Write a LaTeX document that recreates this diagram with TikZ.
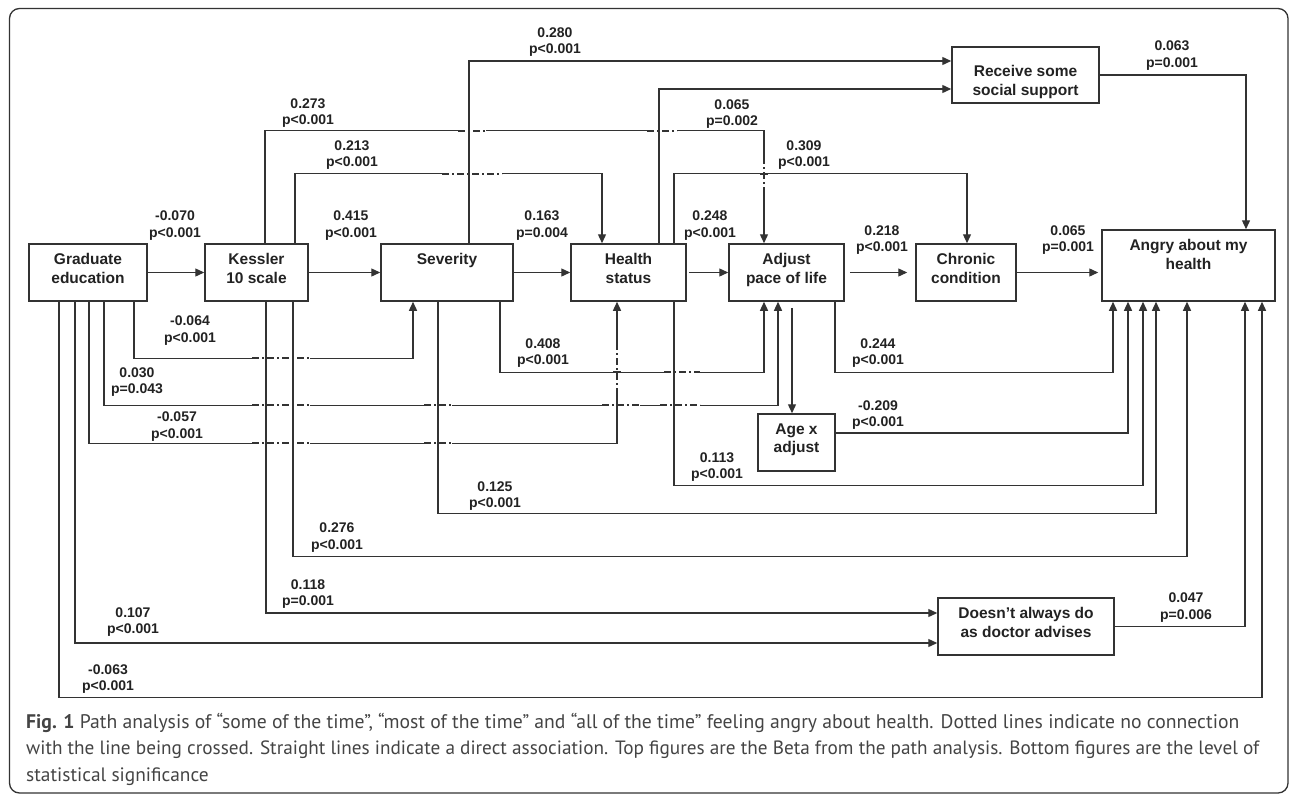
\documentclass[tikz,border=0pt]{standalone}
\usepackage{fontspec}
\setmainfont{Liberation Sans}
\newfontfamily\capfont{PT Sans}
\usetikzlibrary{arrows.meta}
\definecolor{ln}{HTML}{333333}
\definecolor{tx}{HTML}{222222}
\definecolor{captx}{HTML}{444444}
\tikzset{
 box/.style={draw=ln, line width=1.5pt, inner sep=0pt},
 boxtext/.style={anchor=north, inner sep=0pt, yshift=-10pt, align=center, font=\bfseries\fontsize{15.5}{18.5}\selectfont, text=tx},
 conn/.style={draw=ln, line width=1.3pt, -{Triangle[length=9pt,width=8pt]}},
 plain/.style={draw=ln, line width=1.3pt},
 brk/.style={draw=ln, line width=1.3pt, dash pattern=on 7pt off 3pt on 2pt off 3pt},
 coef/.style={align=center, inner sep=0pt, font=\bfseries\fontsize{14}{16.5}\selectfont, text=tx},
 captext/.style={anchor=west, inner sep=0pt, font=\capfont\fontsize{19.4}{22}\selectfont, text=captx},
}
\newcommand\brkh[3]{\fill[white] (#1,#3-1.8) rectangle (#2,#3+1.8); \draw[brk] (#1,#3) -- (#2,#3);}
\newcommand\brkv[3]{\fill[white] (#3-1.8,#1) rectangle (#3+1.8,#2); \draw[brk] (#3,#1) -- (#3,#2);}
\newcommand\fixv[2]{\draw[plain] (#1,#2-4) -- (#1,#2+4);}
\newcommand\fixh[2]{\draw[plain] (#1-4,#2) -- (#1+4,#2);}
\begin{document}
\begin{tikzpicture}[x=1pt,y=-1pt]
\useasboundingbox (0,0) rectangle (1292,795);
\draw[ln, line width=1.3pt, rounded corners=10pt] (9.5,8.5) rectangle (1288,793);

% boxes
\node[box, minimum width=118pt, minimum height=57pt] (grad) at (88,272.5) {};
\node[boxtext] (gradT) at (grad.north) {Graduate\\education};
\node[box, minimum width=103pt, minimum height=57pt] (kess) at (256.5,272.5) {};
\node[boxtext] (kessT) at (kess.north) {Kessler\\10 scale};
\node[box, minimum width=132pt, minimum height=57pt] (sev) at (447,272.5) {};
\node[boxtext] (sevT) at (sev.north) {Severity};
\node[box, minimum width=115pt, minimum height=57pt] (hs) at (628.5,272.5) {};
\node[boxtext] (hsT) at (hs.north) {Health\\status};
\node[box, minimum width=115pt, minimum height=57pt] (adj) at (786.5,272.5) {};
\node[boxtext] (adjT) at (adj.north) {Adjust\\pace of life};
\node[box, minimum width=100pt, minimum height=57pt] (chr) at (966,272.5) {};
\node[boxtext] (chrT) at (chr.north) {Chronic\\condition};
\node[box, minimum width=173pt, minimum height=71pt] (ang) at (1188.5,265.5) {};
\node[boxtext] (angT) at (ang.north) {Angry about my\\health};
\node[box, minimum width=147pt, minimum height=56pt] (rec) at (1025.5,75) {};
\node[boxtext, yshift=-9pt] (recT) at (rec.north) {Receive some\\social support};
\node[box, minimum width=77pt, minimum height=57pt] (agex) at (796.5,442.5) {};
\node[boxtext] (agexT) at (agex.north) {Age x\\adjust};
\node[box, minimum width=176pt, minimum height=57pt] (doc) at (1026,626.5) {};
\node[boxtext] (docT) at (doc.north) {Doesn’t always do\\as doctor advises};

% main row
\draw[conn] (grad.east) -- (kess.west);
\draw[conn] (kess.east) -- (sev.west);
\draw[conn] (sev.east) -- (hs.west);
\draw[conn, shorten <=2pt] (hs.east) -- (adj.west);
\draw[conn, shorten <=5pt, shorten >=8pt] (adj.east) -- (chr.west);
\draw[conn, shorten >=3pt] (chr.east) -- (chr.east -| ang.west);

% upper connectors
\draw[conn] ([xshift=22pt]sev.north) |- ([yshift=14pt]rec.west);
\draw[conn] ([xshift=30.5pt]hs.north) |- ([yshift=-14pt]rec.west);
\draw[conn] ([xshift=8.5pt]kess.north) -- ++(0,-113) -| ([xshift=-22.5pt]adj.north);
\draw[conn] ([xshift=38.5pt]kess.north) -- ++(0,-70) -| ([xshift=-26.5pt]hs.north);
\draw[conn] ([xshift=45.5pt]hs.north) -- ++(0,-70) -| ([xshift=1pt]chr.north);
\draw[conn] (rec.east) -| ([xshift=57.5pt]ang.north);

% lower connectors
\draw[conn] ([xshift=46pt]grad.south) -- ++(0,57) -| ([xshift=-34pt]sev.south);
\draw[conn] ([xshift=16pt]grad.south) -- ++(0,104) -| ([xshift=-8.5pt]adj.south);
\draw[conn] ([xshift=1pt]grad.south) -- ++(0,142) -| ([xshift=-11.5pt]hs.south);
\draw[conn] ([xshift=-13pt]grad.south) |- ([yshift=-16.5pt]doc.west);
\draw[conn] ([xshift=-29pt]grad.south) -- ++(0,396) -| ([xshift=73.5pt]ang.south);
\draw[conn] ([xshift=9.5pt]kess.south) |- ([yshift=13.5pt]doc.west);
\draw[conn] ([xshift=36.5pt]kess.south) -- ++(0,255) -| ([xshift=-1.5pt]ang.south);
\draw[conn] ([xshift=-9pt]sev.south) -- ++(0,212) -| ([xshift=-32.5pt]ang.south);
\draw[conn] ([xshift=53pt]sev.south) -- ++(0,71) -| ([xshift=-22.5pt]adj.south);
\draw[conn] ([xshift=45.5pt]hs.south) -- ++(0,184) -| ([xshift=-45.5pt]ang.south);
\draw[conn] ([xshift=48.5pt]adj.south) -- ++(0,71) -| ([xshift=-75.5pt]ang.south);
\draw[conn, shorten <=6pt] ([xshift=5.5pt]adj.south) -- ([xshift=5.5pt]adj.south |- agex.north);
\draw[conn] ([yshift=9.5pt]agex.east) -| ([xshift=-60.5pt]ang.south);
\draw[conn] (doc.east) -| ([xshift=56.5pt]ang.south);

% crossings without connection
\brkh{458}{486}{131} \fixv{469}{131}
\brkh{647}{677}{131} \fixv{659}{131}
\brkh{442}{502}{174} \fixv{469}{174}
\brkv{157}{190}{764} \fixh{764}{174}
\brkh{252}{310}{358} \fixv{266}{358} \fixv{293}{358}
\brkh{252}{310}{405} \fixv{266}{405} \fixv{293}{405}
\brkh{424}{452}{405} \fixv{438}{405}
\brkh{602}{640}{405} \fixv{617}{405}
\brkh{660}{700}{405} \fixv{674}{405}
\brkh{252}{310}{443} \fixv{266}{443} \fixv{293}{443}
\brkh{424}{452}{443} \fixv{438}{443}
\brkh{664}{700}{372} \fixv{674}{372}
\brkv{343}{390}{617} \fixh{617}{372}

% coefficients
\node[coef] (c1) at (175,225.5) {-0.070\\p<0.001};
\node[coef] (c2) at (351,225.5) {0.415\\p<0.001};
\node[coef] (c3) at (308,113) {0.273\\p<0.001};
\node[coef] (c4) at (352,155) {0.213\\p<0.001};
\node[coef] (c5) at (555,42) {0.280\\p<0.001};
\node[coef] (c6) at (542,225.5) {0.163\\p=0.004};
\node[coef] (c7) at (732,114) {0.065\\p=0.002};
\node[coef] (c8) at (804,155) {0.309\\p<0.001};
\node[coef] (c9) at (710,225.5) {0.248\\p<0.001};
\node[coef] (c10) at (882,240) {0.218\\p<0.001};
\node[coef] (c11) at (1068,240) {0.065\\p=0.001};
\node[coef] (c12) at (1172,55.5) {0.063\\p=0.001};
\node[coef] (c13) at (190,330.5) {-0.064\\p<0.001};
\node[coef] (c14) at (543,353) {0.408\\p<0.001};
\node[coef] (c15) at (137,382) {0.030\\p=0.043};
\node[coef] (c16) at (177,426.5) {-0.057\\p<0.001};
\node[coef] (c17) at (878,353) {0.244\\p<0.001};
\node[coef] (c18) at (878,415) {-0.209\\p<0.001};
\node[coef] (c19) at (717,467) {0.113\\p<0.001};
\node[coef] (c20) at (495,496) {0.125\\p<0.001};
\node[coef] (c21) at (337,537.5) {0.276\\p<0.001};
\node[coef] (c22) at (308,594) {0.118\\p=0.001};
\node[coef] (c23) at (133,622) {0.107\\p<0.001};
\node[coef] (c24) at (108,679) {-0.063\\p<0.001};
\node[coef] (c25) at (1186,607.5) {0.047\\p=0.006};

% caption
\node[captext] (cap1) at (26,723) {\resizebox{1213pt}{!}{\textbf{Fig. 1} Path analysis of “some of the time”, “most of the time” and “all of the time” feeling angry about health. Dotted lines indicate no connection}};
\node[captext] (cap2) at (26,750) {\resizebox{1233pt}{!}{with the line being crossed. Straight lines indicate a direct association. Top figures are the Beta from the path analysis. Bottom figures are the level of}};
\node[captext] (cap3) at (26,777) {statistical significance};
\end{tikzpicture}
\end{document}
